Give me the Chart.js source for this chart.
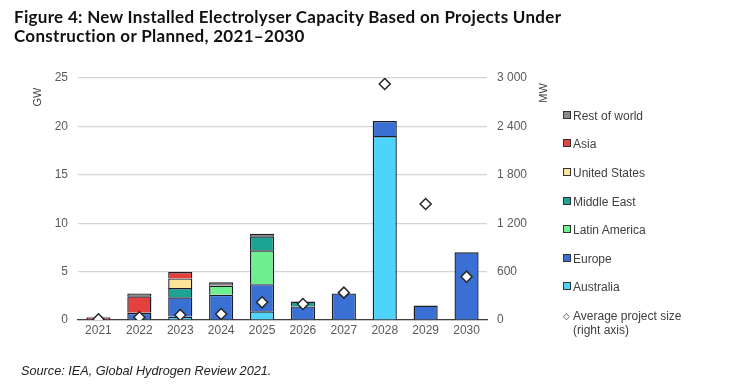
<!DOCTYPE html>
<html>
<head>
<meta charset="utf-8">
<script src="https://cdn.jsdelivr.net/npm/chart.js@4/dist/chart.umd.min.js"></script>
<style>
  body { margin: 0; background: #fff; }
  #wrap { position: relative; width: 740px; height: 391px; overflow: hidden; }
  #chart { position: absolute; left: 0; top: 0; }
  .title { position: absolute; left: 14px; top: 8px; font: bold 17px Lato, sans-serif; letter-spacing: 0.3px; line-height: 18.5px; color: #111; }
  .source { position: absolute; left: 21px; top: 364px; font: italic 12.7px "Liberation Sans", sans-serif; color: #222; }
  #legend { position: absolute; left: 563px; top: 0; font: 12px "Liberation Sans", sans-serif; color: #404040; }
  #legend .item { position: absolute; left: 0; white-space: nowrap; line-height: 14px; }
  #legend .box { display: inline-block; width: 6px; height: 6px; border: 1px solid #333; margin-right: 2px; vertical-align: 1px; }
</style>
</head>
<body>
<div id="wrap">
  <canvas id="chart" width="740" height="391"></canvas>
  <div class="title">Figure 4: New Installed Electrolyser Capacity Based on Projects Under<br>Construction or Planned, 2021–2030</div>
  <div id="legend"></div>
  <div class="source">Source: IEA, Global Hydrogen Review 2021.</div>
</div>
<script>
const years = ["2021", "2022", "2023", "2024", "2025", "2026", "2027", "2028", "2029", "2030"];

// GW, stacked bottom to top
const australia    = [0,    0,    0.35, 0,    0.9,  0,   0,    19.0, 0,   0];
const europe       = [0,    0.75, 2.0,  2.6,  2.8,  1.4, 2.75, 1.55, 1.5, 7.0];
const latinAmerica = [0,    0,    0,    0.95, 3.5,  0,   0,    0,    0,   0];
const middleEast   = [0,    0,    0.95, 0,    1.45, 0.5, 0,    0,    0,   0];
const unitedStates = [0,    0,    1.0,  0,    0,    0,   0,    0,    0,   0];
const asia         = [0.25, 1.7,  0.65, 0,    0,    0,   0,    0,    0,   0];
const restOfWorld  = [0.08, 0.3,  0,    0.35, 0.25, 0,   0,    0,    0,   0];

// MW, right axis
const avgProjectSize = [10, 33, 62, 74, 219, 198, 339, 2926, 1438, 537];

const gwTicks = [0, 5, 10, 15, 20, 25];
const mwTicks = [0, 600, 1200, 1800, 2400, 3000];

const ctx = document.getElementById("chart").getContext("2d");

function bar(label, data, color) {
  return {
    type: "bar",
    label: label,
    data: data,
    backgroundColor: color,
    borderColor: "#1c1c28",
    borderWidth: 1.4,
    yAxisID: "y",
    stack: "a",
    order: 1,
    barPercentage: 0.59,
    categoryPercentage: 1
  };
}

const datasets = [
  bar("Australia", australia, "#4fd3fa"),
  bar("Europe", europe, "#3a70d4"),
  bar("Latin America", latinAmerica, "#6ff08f"),
  bar("Middle East", middleEast, "#1ba393"),
  bar("United States", unitedStates, "#fde29a"),
  bar("Asia", asia, "#e4413e"),
  bar("Rest of world", restOfWorld, "#8a8a8a"),
  {
    type: "line",
    label: "Average project size (right axis)",
    data: avgProjectSize,
    yAxisID: "y1",
    showLine: false,
    pointStyle: "rectRot",
    pointRadius: 5.5,
    pointBackgroundColor: "#fff",
    pointBorderColor: "#262626",
    pointBorderWidth: 1.5,
    order: 0
  }
];

const spaced = v => String(v).replace(/\B(?=(\d{3})+(?!\d))/g, " ");

const axisTitles = {
  id: "axisTitles",
  afterDraw(chart) {
    const c = chart.ctx;
    c.save();
    c.font = "11px 'Liberation Sans', sans-serif";
    c.fillStyle = "#404040";
    c.textAlign = "center";
    c.textBaseline = "middle";
    [["GW", 38, 97], ["MW", 544, 93]].forEach(([t, x, y]) => {
      c.save();
      c.translate(x, y);
      c.rotate(-Math.PI / 2);
      c.fillText(t, 0, 0);
      c.restore();
    });
    c.restore();
  }
};

const chart = new Chart(ctx, {
  data: { labels: years, datasets: datasets },
  options: {
    responsive: false,
    animation: false,
    layout: { padding: { left: 0, top: 78, right: 0, bottom: 51 } },
    plugins: {
      legend: { display: false },
      tooltip: { enabled: false }
    },
    scales: {
      x: {
        stacked: true,
        grid: { display: false, drawTicks: false },
        border: { display: true, color: "#404040", width: 1.3 },
        ticks: { font: { family: "Liberation Sans", size: 12 }, color: "#595959", padding: 3, maxRotation: 0 },
        afterFit(s) { s.height = 20; }
      },
      y: {
        stacked: true,
        position: "left",
        min: 0,
        max: 25,
        afterBuildTicks(s) { s.ticks = gwTicks.map(v => ({ value: v })); },
        grid: { color: "#d4d4d4", lineWidth: 1.2, drawTicks: false },
        border: { display: false },
        ticks: { font: { family: "Liberation Sans", size: 12 }, color: "#595959", padding: 10 },
        afterFit(s) { s.width = 78; }
      },
      y1: {
        position: "right",
        min: 0,
        max: 3000,
        afterBuildTicks(s) { s.ticks = mwTicks.map(v => ({ value: v })); },
        grid: { display: false, drawTicks: false },
        border: { display: false },
        ticks: { font: { family: "Liberation Sans", size: 12 }, color: "#595959", padding: 10, callback: v => spaced(v) },
        afterFit(s) { s.width = 253; }
      }
    }
  },
  plugins: [axisTitles]
});

// legend in the reference order: top of stack first, marker last
const legend = document.getElementById("legend");
const legendY = [116, 144.3, 172.7, 201.7, 230, 259, 287.3, 315.7];
const order = [6, 5, 4, 3, 2, 1, 0, 7];
order.forEach((idx, i) => {
  const ds = chart.data.datasets[idx];
  const item = document.createElement("div");
  item.className = "item";
  item.style.top = (legendY[i] - 7) + "px";
  if (ds.type === "line") {
    item.innerHTML = '<span style="display:inline-block;width:10px;color:#333;font-size:9px;vertical-align:1px">&#9671;</span>' +
      ds.label.replace(" (right axis)", "") + '<br><span style="padding-left:10px">(right axis)</span>';
  } else {
    item.innerHTML = '<span class="box" style="background:' + ds.backgroundColor + '"></span>' + ds.label;
  }
  legend.appendChild(item);
});
</script>
</body>
</html>
